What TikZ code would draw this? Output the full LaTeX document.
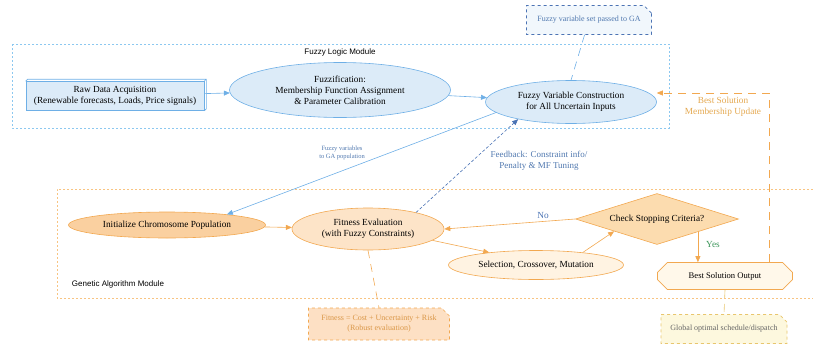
\documentclass[tikz,border=0pt]{standalone}
\usepackage{fontspec}
\setmainfont{Liberation Serif}
\setsansfont{Liberation Sans}
\usepackage{tikz}
\usetikzlibrary{shapes.geometric,shapes.misc,arrows.meta}

\definecolor{fzline}{RGB}{110,175,230}
\definecolor{fzfill}{RGB}{220,235,248}
\definecolor{fzbox}{RGB}{140,200,240}
\definecolor{fzdark}{RGB}{75,115,180}
\definecolor{fztext}{RGB}{80,120,175}
\definecolor{gaorange}{RGB}{242,168,80}
\definecolor{gabox}{RGB}{248,196,130}
\definecolor{initfill}{RGB}{250,208,160}
\definecolor{fitfill}{RGB}{253,228,200}
\definecolor{checkfill}{RGB}{252,220,175}
\definecolor{selfill}{RGB}{255,243,226}
\definecolor{bestfill}{RGB}{255,248,234}
\definecolor{fnotefill}{RGB}{253,224,196}
\definecolor{onotefill}{RGB}{253,248,222}
\definecolor{onoteline}{RGB}{232,198,110}
\definecolor{besttext}{RGB}{228,168,80}
\definecolor{yesgreen}{RGB}{60,150,90}

\begin{document}
\begin{tikzpicture}[x=1pt,y=-1pt,semithick,
    font=\fontsize{9.3}{11}\selectfont,
    fzell/.style={ellipse,draw=fzline,fill=fzfill,inner sep=0pt,align=center},
    gaell/.style={ellipse,draw=gaorange,inner sep=0pt,align=center},
    notebox/.style={chamfered rectangle,chamfered rectangle corners=north east,
      chamfered rectangle xsep=4pt,chamfered rectangle ysep=4pt,dashed,
      inner sep=0pt,align=center,font=\fontsize{8}{10}\selectfont},
    flow/.style={-{Triangle[length=6pt,width=5pt]}},
    longdash/.style={dash pattern=on 8pt off 6pt},
    modlabel/.style={font=\sffamily\fontsize{8}{10}\selectfont}
  ]
    \useasboundingbox (0,0) rectangle (813,343);

    % module frames
    \draw[fzbox,dash pattern=on 2pt off 2pt] (12,44) rectangle (669,128);
    \node[modlabel] (fzlabel) at (340,52) {Fuzzy Logic Module};
    \draw[gabox,dash pattern=on 2pt off 2pt] (813,189) -- (57,189) -- (57,298) -- (813,298);
    \node[modlabel] (galabel) at (118,284) {Genetic Algorithm Module};

    % fuzzy part
    \node[draw=fzline,fill=fzfill,minimum width=178pt,minimum height=29pt,inner sep=0pt,align=center] (raw) at (115,96)
      {Raw Data Acquisition\\(Renewable forecasts, Loads, Price signals)};
    \draw[fzline] (raw.north west) -- ++(2pt,2pt) -| ([shift={(2pt,2pt)}]raw.south east) -- (raw.south east)
      (raw.north east) -- ++(2pt,2pt);
    \node[fzell,minimum width=221pt,minimum height=55pt] (fuzz) at (340,90)
      {Fuzzification:\\Membership Function Assignment\\\& Parameter Calibration};
    \node[fzell,minimum width=171pt,minimum height=43pt] (fvar) at (571,102)
      {Fuzzy Variable Construction\\for All Uncertain Inputs};
    \node[notebox,draw=fzdark,fill=fzfill!40,text=fztext,minimum width=125pt,minimum height=29pt] (gnote) at (589,20)
      {Fuzzy variable set passed to GA};

    % GA part
    \node[gaell,fill=initfill,minimum width=197pt,minimum height=26pt] (init) at (167,225)
      {Initialize Chromosome Population};
    \node[gaell,fill=fitfill,minimum width=152pt,minimum height=42pt] (fit) at (368,229)
      {Fitness Evaluation\\(with Fuzzy Constraints)};
    \node[diamond,draw=gaorange,fill=checkfill,aspect=3.2,inner sep=0pt,
      minimum width=163pt,minimum height=51pt] (check) at (657,219) {Check Stopping Criteria?};
    \node[gaell,fill=selfill,minimum width=175pt,minimum height=29pt] (sel) at (536,265)
      {Selection, Crossover, Mutation};
    \node[chamfered rectangle,chamfered rectangle xsep=10pt,chamfered rectangle ysep=6pt,
      draw=gaorange,fill=bestfill,inner sep=0pt,minimum width=135pt,minimum height=27pt,
      font=\fontsize{8.6}{10}\selectfont] (best) at (725,276) {Best Solution Output};
    \node[notebox,draw=gaorange,fill=fnotefill,text=gaorange!90!black,minimum width=141pt,minimum height=32pt] (fnote) at (379,324)
      {Fitness = Cost + Uncertainty + Risk\\(Robust evaluation)};
    \node[notebox,draw=onoteline,fill=onotefill,text=black!60,minimum width=126pt,minimum height=29pt] (onote) at (724,329)
      {Global optimal schedule/dispatch};

    % connectors
    \path[fzline,flow]
      (raw) edge (fuzz)
      (fuzz) edge (fvar)
      (fvar.188) edge (init.10)
    ;
    \node[text=fztext,align=center,font=\fontsize{6.5}{7.5}\selectfont] (tolabel) at (342,153)
      {Fuzzy variables\\to GA population};
    \draw[fzdark,flow,dash pattern=on 3pt off 2pt] (fit.19) -- (fvar.198);
    \node[text=fztext,align=center,font=\fontsize{9}{11}\selectfont] (fblabel) at (539,161)
      {Feedback: Constraint info/\\Penalty \& MF Tuning};
    \draw[fzline,longdash] (gnote) -- (fvar.north);

    \path[gaorange,flow]
      (init) edge (fit)
      (fit.-10) edge (sel.165)
      (sel.15) edge (check.196)
      (check.west) edge (fit.east)
      (check.south east) edge (check.south east |- best.north)
    ;
    \node[text=fzdark] (nolabel) at (543,215) {No};
    \node[text=yesgreen] (yeslabel) at (713,244) {Yes};

    \coordinate (upd) at (769,93);
    \draw[gaorange,longdash,flow] (upd |- best.north) -- (upd) -- (upd -| fvar.east);
    \node[text=besttext,align=center] (updlabel) at (723,107) {Best Solution\\Membership Update};

    \draw[gaorange,longdash] (fit.south) -- (fnote.north);
    \draw[onoteline,longdash] (best.south) -- (onote.north);
\end{tikzpicture}
\end{document}
